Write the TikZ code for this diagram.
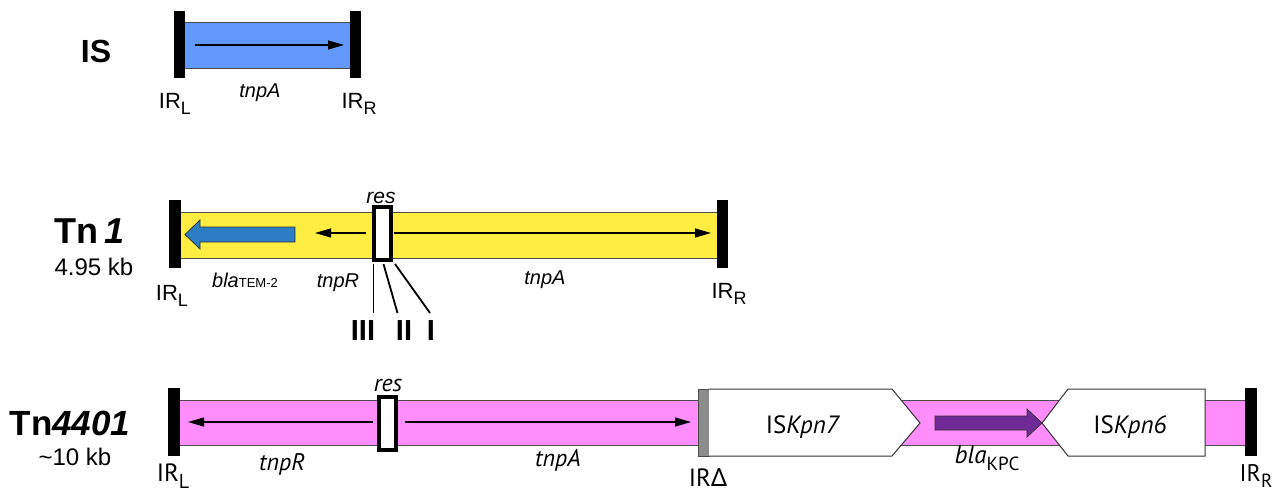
\documentclass[tikz,border=0pt]{standalone}
\usepackage{fontspec}
\setmainfont{Liberation Sans}
\newfontfamily\ptsans{PT Sans}
\newfontfamily\notosans{Noto Sans}
\usetikzlibrary{arrows.meta}
\definecolor{isblue}{RGB}{98,152,250}
\definecolor{tnyellow}{RGB}{255,237,66}
\definecolor{tnpink}{RGB}{255,142,252}
\definecolor{temblue}{RGB}{44,126,196}
\definecolor{kpcpurple}{RGB}{112,42,152}
\definecolor{irgrey}{RGB}{140,140,140}
\newcommand\fsz[1]{\fontsize{#1}{#1}\selectfont}
\newcommand\sbs[3]{\raisebox{-#1pt}{\fsz{#2}#3}}
\begin{document}
\begin{tikzpicture}[x=1pt,y=-1pt,
  lbl/.style={inner sep=0pt,outer sep=0pt,anchor=base},
  irbar/.style={fill=black,inner sep=0pt,outer sep=0pt,minimum width=12pt,minimum height=68pt},
  greybar/.style={fill=irgrey,draw=black!70,line width=0.6pt,inner sep=0pt,outer sep=0pt,minimum width=11pt,minimum height=67pt},
  bandline/.style={draw=black!70,line width=0.9pt},
  gene/.style={draw=black,line width=1.1pt,-{Triangle[length=16pt,width=9pt]}},
  resbox/.style={draw=black,line width=3.8pt,fill=white,inner sep=0pt,outer sep=0pt,minimum width=17pt,minimum height=53pt},
  isbox/.style={draw=black!80,line width=1pt,fill=white},
  fatarrow/.style={draw=black!80,line width=0.8pt},
  resline/.style={draw=black,line width=1.8pt}]
\useasboundingbox[fill=white] (0,0) rectangle (1281,493);

% ---------------- IS ----------------
\node[lbl] (isT) at (96,62) {\fsz{32}\bfseries IS};
\fill[isblue] (183,22) rectangle (352,68);
\draw[bandline] (183,22) -- (352,22) (183,68) -- (352,68);
\node[irbar,minimum width=11pt,minimum height=67pt] (isL) at (179.5,44.5) {};
\node[irbar,minimum width=11pt,minimum height=67pt] (isR) at (355.5,44.5) {};
\coordinate (isa1) at (195,45);
\coordinate (isa2) at (344,45);
\draw[gene] (isa1) -- (isa2);
\node[lbl] (isIRL) at (175,108) {\fsz{22}IR\sbs{6}{18}{L}};
\node[lbl] (isA) at (260,97) {\fsz{20}\itshape tnpA};
\node[lbl] (isIRR) at (359,108) {\fsz{22}IR\sbs{6}{18}{R}};

% ---------------- Tn1 ----------------
\node[lbl] (t1T) at (90,243) {\fsz{36}\bfseries Tn\,\textit{1}};
\node[lbl] (t1S) at (94,275) {\fsz{24}4.95 kb};
\fill[tnyellow] (181,212) rectangle (717,258);
\draw[bandline] (181,212) -- (717,212) (181,258) -- (717,258);
\node[irbar] (t1L) at (175,234) {};
\node[irbar,minimum width=11pt] (t1R) at (722.5,234) {};
\draw[fatarrow,fill=temblue] (295,227) -- (200,227) -- (200,220) -- (185,234.5) -- (200,249) -- (200,242) -- (295,242) -- cycle;
\node[resbox] (res1) at (382.5,233.5) {};
\coordinate (t1r0) at (366,233);
\coordinate (t1r1) at (315,233);
\coordinate (t1a0) at (394,233);
\coordinate (t1a1) at (711,233);
\draw[gene] (t1r0) -- (t1r1);
\draw[gene] (t1a0) -- (t1a1);
\node[lbl] at (381,203) (res1L) {\fsz{21}\itshape res};
\coordinate (l3a) at (373.5,264); \coordinate (l3b) at (373.5,313);
\coordinate (l2a) at (383.5,264); \coordinate (l2b) at (397.5,313);
\coordinate (l1a) at (395,264);  \coordinate (l1b) at (430,313);
\draw[resline] (l3a) -- (l3b);
\draw[resline] (l2a) -- (l2b);
\draw[resline] (l1a) -- (l1b);
\node[lbl] (s3) at (363,340) {\fsz{29}\bfseries III};
\node[lbl] (s2) at (404,340) {\fsz{29}\bfseries II};
\node[lbl] (s1) at (431,340) {\fsz{29}\bfseries I};
\node[lbl] (t1IRL) at (172,300) {\fsz{22}IR\sbs{6}{18}{L}};
\node[lbl] (t1bla) at (245,287) {\fsz{20}\textit{bla}{\fsz{13}TEM-2}};
\node[lbl] (t1tnpR) at (338,287) {\fsz{20}\itshape tnpR};
\node[lbl] (t1tnpA) at (545,284) {\fsz{20}\itshape tnpA};
\node[lbl] (t1IRR) at (729,298) {\fsz{22}IR\sbs{6}{18}{R}};

% ---------------- Tn4401 ----------------
\node[lbl] (t4T) at (70,435) {\fsz{35}\bfseries Tn\textit{4401}};
\node[lbl] (t4S) at (75,465) {\fsz{24}\textasciitilde10 kb};
\fill[tnpink] (180,400) rectangle (698,445);
\draw[bandline] (180,400) -- (698,400) (180,445) -- (698,445);
\fill[tnpink] (709,400) rectangle (1245,445);
\draw[bandline] (709,400) -- (1245,400) (709,445) -- (1245,445);
\node[irbar] (t4L) at (174,422) {};
\node[greybar] (t4D) at (703.5,422.5) {};
\node[irbar] (t4R) at (1251,422) {};
\node[resbox] (res2) at (387.5,423.5) {};
\coordinate (t4r0) at (373,422);
\coordinate (t4r1) at (188,422);
\coordinate (t4a0) at (405,422);
\coordinate (t4a1) at (691,422);
\draw[gene] (t4r0) -- (t4r1);
\draw[gene] (t4a0) -- (t4a1);
\draw[isbox] (709,389) -- (892,389) -- (920,423) -- (892,456) -- (709,456);
\draw[isbox] (1042,423) -- (1068,389) -- (1205,389) -- (1205,456) -- (1068,456) -- cycle;
\draw[fatarrow,fill=kpcpurple] (935,416) -- (1027,416) -- (1027,409) -- (1042,423) -- (1027,437) -- (1027,430) -- (935,430) -- cycle;
\node[lbl] (k7) at (803,433) {\ptsans\fsz{25}IS\textit{Kpn7}};
\node[lbl] (k6) at (1130,433) {\ptsans\fsz{25}IS\textit{Kpn6}};
\node[lbl] (res2L) at (388,391) {\ptsans\fsz{24}\itshape res};
\node[lbl] (t4IRL) at (173,481) {\ptsans\fsz{25}IR\sbs{7}{20}{L}};
\node[lbl] (t4tnpR) at (282,470) {\ptsans\fsz{24}\itshape tnpR};
\node[lbl] (t4tnpA) at (558,466) {\ptsans\fsz{24}\itshape tnpA};
\node[lbl] (t4IRD) at (708,486) {\ptsans\fsz{25}IR{\notosans Δ}};
\node[lbl] (t4bla) at (987,463) {\ptsans\fsz{25}\textit{bla}\sbs{7}{19}{KPC}};
\node[lbl] (t4IRR) at (1256,481) {\ptsans\fsz{24}IR\sbs{6}{19}{R}};
\end{tikzpicture}
\end{document}
